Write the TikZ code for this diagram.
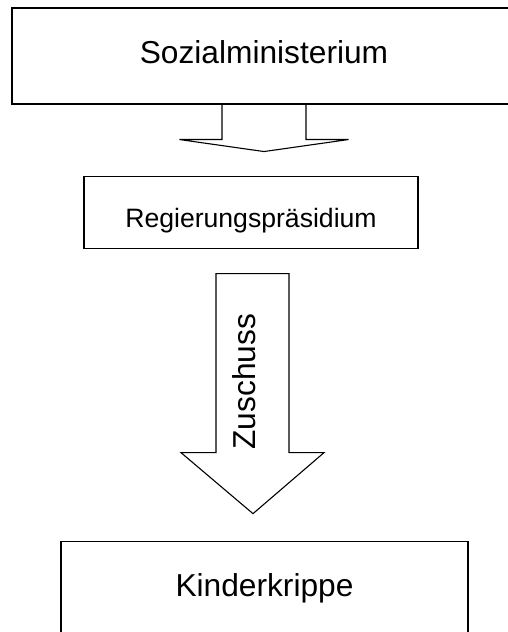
\documentclass[tikz,border=0pt]{standalone}
\usepackage{fontspec}
\setmainfont{Liberation Sans}
\usepackage{tikz}
\usetikzlibrary{positioning}

\begin{document}
\begin{tikzpicture}[x=1pt, y=1pt, line width=1.1pt,
    bignode/.style={rectangle, draw=black, inner sep=0pt,
      font=\fontsize{31.7}{38}\selectfont, text height=23pt,
      text depth=8pt},
    smallnode/.style={rectangle, draw=black, inner sep=0pt,
      font=\fontsize{26.6}{32}\selectfont, text height=31pt,
      text depth=0pt},
    arrowlabel/.style={rotate=90, inner sep=0pt,
      font=\fontsize{31.7}{38}\selectfont}, ]
    \useasboundingbox (0,0) rectangle (507,632);
    % Nodes
    \node[bignode, minimum width=504pt, minimum height=96pt] (ministerium)
    at (264,576) {Sozialministerium}; \node[smallnode, minimum
      width=334pt, minimum height=72pt] (praesidium) [below=71pt of
    ministerium, xshift=-13pt] {Regierungspräsidium};
    \node[bignode, minimum width=407pt, minimum height=96pt] (krippe)
    [below=292pt of praesidium, xshift=13.5pt] {Kinderkrippe};
    \path (praesidium.south) ++(-6.5,-133) node[arrowlabel] (zuschuss)
    {Zuschuss};
    % Lines
    \draw (ministerium.south) ++(-42,0) -- ++(0,-35) -- ++(-42.5,0)
    -- ++(84.5,-12) -- ++(84.5,12) -- ++(-42.5,0) -- ++(0,35);
    \draw (praesidium.south) ++(-35,-25) -- ++(73,0) -- ++(0,-179)
    -- ++(35,0) -- ++(-71,-61) -- ++(-72,61) -- ++(35,0) -- cycle;
  \end{tikzpicture}
\end{document}
